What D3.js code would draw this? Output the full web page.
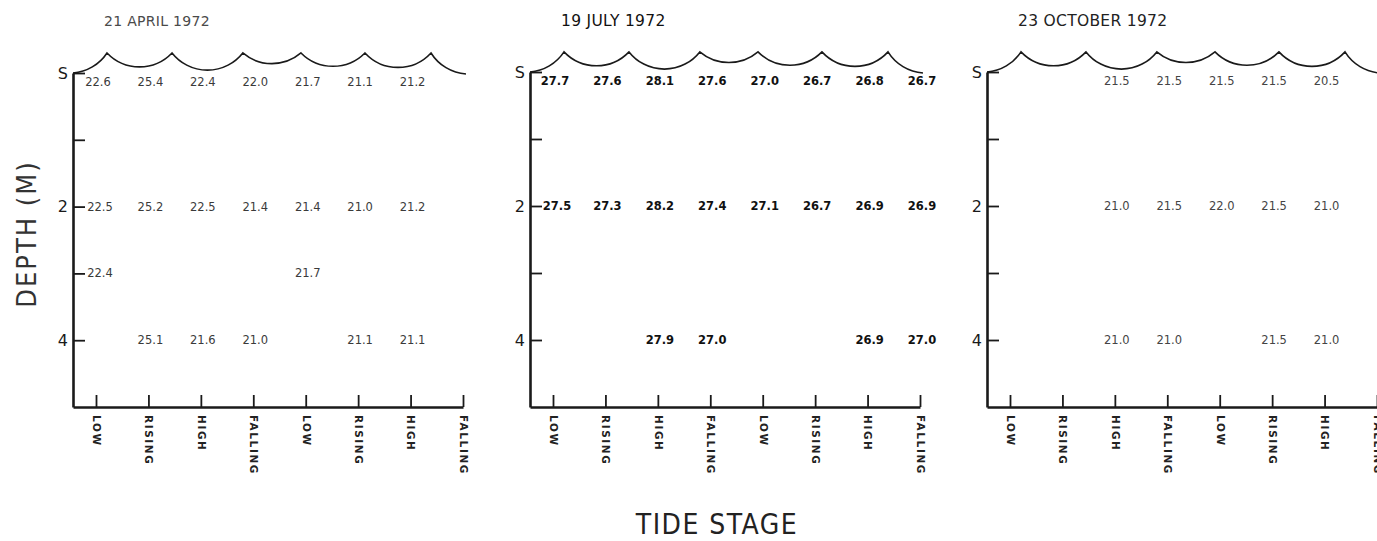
<!DOCTYPE html>
<html>
<head>
<meta charset="utf-8">
<script src="https://cdn.jsdelivr.net/npm/d3@7/dist/d3.min.js"></script>
<style>
  html, body { margin: 0; padding: 0; background: #fff; }
  svg { display: block; }
</style>
</head>
<body>
<svg id="chart" width="1377" height="541"></svg>
<script>
// Tide stages along the bottom axis (two tidal cycles)
const tideStages = ["LOW", "RISING", "HIGH", "FALLING", "LOW", "RISING", "HIGH", "FALLING"];

// Depth axis ticks (metres below surface)
const depthTicks = [0, 1, 2, 3, 4];
const depthTickLabels = ["S", "", "2", "", "4"];

// Sampling dates
const panelTitles = ["21 APRIL 1972", "19 JULY 1972", "23 OCTOBER 1972"];

// Water temperature (°C) by tide stage; null = no reading
const aprilSurface = [22.6, 25.4, 22.4, 22.0, 21.7, 21.1, 21.2, null];
const april2m      = [22.5, 25.2, 22.5, 21.4, 21.4, 21.0, 21.2, null];
const april3m      = [22.4, null, null, null, 21.7, null, null, null];
const april4m      = [null, 25.1, 21.6, 21.0, null, 21.1, 21.1, null];

const julySurface  = [27.7, 27.6, 28.1, 27.6, 27.0, 26.7, 26.8, 26.7];
const july2m       = [27.5, 27.3, 28.2, 27.4, 27.1, 26.7, 26.9, 26.9];
const july4m       = [null, null, 27.9, 27.0, null, null, 26.9, 27.0];

const octSurface   = [null, null, 21.5, 21.5, 21.5, 21.5, 20.5, null];
const oct2m        = [null, null, 21.0, 21.5, 22.0, 21.5, 21.0, null];
const oct4m        = [null, null, 21.0, 21.0, null, 21.5, 21.0, null];

// Crest positions of the water-surface symbol, in tide-stage units
const waveCrests = [0.21, 1.45, 2.80, 3.91, 5.13, 6.39];

const panels = [
  { title: panelTitles[0], rows: [[0, aprilSurface], [2, april2m], [3, april3m], [4, april4m]],
    style: { ink: "#3a3a3a", weight: "normal", titleInk: "#4a4a4a", titleSize: 14 } },
  { title: panelTitles[1], rows: [[0, julySurface], [2, july2m], [4, july4m]],
    style: { ink: "#111", weight: "bold", titleInk: "#111", titleSize: 15.5 } },
  { title: panelTitles[2], rows: [[0, octSurface], [2, oct2m], [4, oct4m]],
    style: { ink: "#444", weight: "normal", titleInk: "#222", titleSize: 15.5 } }
];

const svg = d3.select("#chart");
const font = "'DejaVu Sans', 'Liberation Sans', sans-serif";
const condensed = "'DejaVu Sans Condensed', 'DejaVu Sans', sans-serif";

const panelLeft = [73, 530, 987];
const panelWidth = 390;
const stageStep = 52.43;
const yTop = 73, yBottom = 407;

panels.forEach((p, pi) => {
  const x0 = panelLeft[pi];
  const x = d3.scaleLinear()
    .domain([-23 / stageStep, tideStages.length - 1])
    .range([x0, x0 + panelWidth]);
  const y = d3.scaleLinear().domain([0, 5]).range([yTop - (pi ? 1 : 0), yBottom]);

  const g = svg.append("g");

  // Title
  g.append("text")
    .attr("x", x0 + 31)
    .attr("y", 26)
    .attr("font-family", font)
    .attr("font-size", p.style.titleSize)
    .attr("fill", p.style.titleInk)
    .attr("letter-spacing", 0.3)
    .text(p.title);

  // Depth axis (ticks point inward)
  const yAxis = d3.axisLeft(y)
    .tickValues(depthTicks)
    .tickFormat((d, i) => depthTickLabels[i])
    .tickSize(-12)
    .tickSizeOuter(0)
    .tickPadding(5);
  const ya = g.append("g").attr("transform", `translate(${x0},0)`).call(yAxis);
  ya.select(".domain").attr("stroke", "#1a1a1a").attr("stroke-width", 2.6);
  ya.selectAll(".tick line").attr("stroke", "#1a1a1a").attr("stroke-width", 1.8);
  ya.selectAll(".tick text")
    .attr("font-family", font)
    .attr("font-size", 16)
    .attr("fill", "#1a1a1a");

  // Tide-stage axis (ticks point upward, labels read downward)
  const xAxis = d3.axisBottom(x)
    .tickValues(d3.range(tideStages.length))
    .tickFormat(i => tideStages[i])
    .tickSize(-12)
    .tickSizeOuter(0);
  const xa = g.append("g").attr("transform", `translate(0,${y(5)})`).call(xAxis);
  xa.select(".domain").attr("stroke", "#1a1a1a").attr("stroke-width", 2.6);
  xa.selectAll(".tick line").attr("stroke", "#1a1a1a").attr("stroke-width", 1.8);
  xa.selectAll(".tick text")
    .attr("y", 0)
    .attr("x", 8)
    .attr("dy", "0.35em")
    .attr("transform", "rotate(90)")
    .attr("text-anchor", "start")
    .attr("font-family", font)
    .attr("font-size", 10.5)
    .attr("font-weight", "bold")
    .attr("letter-spacing", 1.6)
    .attr("fill", "#222");

  // Water-surface symbol: scalloped arcs between crests
  const crestY = y(-0.3);
  const pts = [[x(x.domain()[0]), y(0)]]
    .concat(waveCrests.map(c => [x(c), crestY]))
    .concat([[x(tideStages.length - 1) + 3, y(0) + 1]]);
  const R = 45;
  let d = `M${pts[0][0]},${pts[0][1]}`;
  for (let k = 1; k < pts.length; k++) {
    d += ` A${R},${R} 0 0 0 ${pts[k][0]},${pts[k][1]}`;
  }
  g.append("path")
    .attr("d", d)
    .attr("fill", "none")
    .attr("stroke", "#1a1a1a")
    .attr("stroke-width", 1.6);

  // Temperature readings
  p.rows.forEach(([depth, vals]) => {
    const cells = vals.map((v, i) => ({ v, i })).filter(c => c.v !== null);
    g.selectAll(null)
      .data(cells)
      .enter()
      .append("text")
      .attr("x", c => x(c.i) + (c.i === 0 && depth > 0 ? 4 : 2))
      .attr("y", y(depth) + (depth === 0 ? 9 : 0))
      .attr("dy", "0.35em")
      .attr("text-anchor", "middle")
      .attr("font-family", font)
      .attr("font-size", 11.5)
      .attr("font-weight", p.style.weight)
      .attr("fill", p.style.ink)
      .text(c => c.v.toFixed(1));
  });
});

// Shared axis titles
svg.append("text")
  .attr("transform", "translate(36,234) rotate(-90)")
  .attr("text-anchor", "middle")
  .attr("font-family", condensed)
  .attr("font-size", 27)
  .attr("font-weight", 300)
  .attr("letter-spacing", 2)
  .attr("fill", "#333")
  .text("DEPTH  (M)");

svg.append("text")
  .attr("x", 717)
  .attr("y", 534)
  .attr("text-anchor", "middle")
  .attr("font-family", condensed)
  .attr("font-size", 28)
  .attr("letter-spacing", 1.5)
  .attr("fill", "#222")
  .text("TIDE  STAGE");
</script>
</body>
</html>
